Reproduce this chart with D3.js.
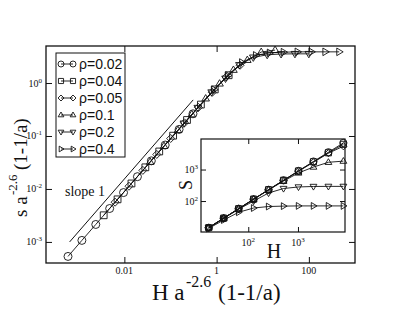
<!DOCTYPE html>
<html><head><meta charset="utf-8">
<script src="https://cdn.jsdelivr.net/npm/d3@7"></script>
<style>body{margin:0;background:#fff}svg{display:block}</style>
</head><body>
<svg id="c" width="403" height="312"></svg>
<script>
// ---- data ----
const H = [16, 32, 64, 128, 256, 512, 1024, 2048, 4096, 8192];
const rhoLabels = ["ρ=0.02", "ρ=0.04", "ρ=0.05", "ρ=0.1", "ρ=0.2", "ρ=0.4"];
const rhoValues = [0.02, 0.04, 0.05, 0.1, 0.2, 0.4];
const s002 = [14.2, 28.5, 57, 114, 228, 455, 905, 1800, 3550, 7000];
const s004 = [14.3, 28.6, 57, 115, 229, 455, 900, 1760, 3400, 6300];
const s005 = [14.3, 28.6, 57, 114, 228, 450, 880, 1700, 3300, 5500];
const s01  = [14.3, 28.5, 57, 113, 225, 430, 780, 1200, 1700, 1850];
const s02  = [14.2, 28, 55, 100, 180, 250, 280, 290, 292, 292];
const s04  = [13.5, 25, 44, 60, 67, 69, 70, 70, 70, 70];
const slopeLine = [[6.5e-4, 1.0e-3], [0.31, 0.48]];
const mainXTicks = [0.01, 1, 100];
const mainXTickLabels = ["0.01", "1", "100"];
const mainYTicks = [1e-3, 1e-2, 1e-1, 1];
const mainYTickExp = ["-3", "-2", "-1", "0"];
const insetXTicks = [100, 1000];
const insetYTicks = [100, 1000];
const insetTickExp = ["2", "3"];
const symbols = ["circle", "square", "diamond", "up", "down", "right"];

const allS = [s002, s004, s005, s01, s02, s04];

// ---- drawing ----
const svg = d3.select("#c");
const serif = "'Liberation Serif','Times New Roman',serif";
const sans = "'Liberation Sans',Arial,sans-serif";
const ink = "#111";

function symPath(type, r) {
  switch (type) {
    case "circle": return `M${-r},0A${r},${r} 0 1,0 ${r},0A${r},${r} 0 1,0 ${-r},0Z`;
    case "square": { const h = r * 0.85; return `M${-h},${-h}H${h}V${h}H${-h}Z`; }
    case "diamond": return `M0,${-r}L${r},0L0,${r}L${-r},0Z`;
    case "up": return `M0,${-r}L${r * 0.95},${r * 0.6}L${-r * 0.95},${r * 0.6}Z`;
    case "down": return `M0,${r}L${r * 0.95},${-r * 0.6}L${-r * 0.95},${-r * 0.6}Z`;
    case "right": return `M${r},0L${-r * 0.6},${r * 0.95}L${-r * 0.6},${-r * 0.95}Z`;
  }
}

// main plot
const M = {l: 46, r: 355, t: 46, b: 263};
const x = d3.scaleLog().domain([2e-4, 1000]).range([M.l, M.r]);
const y = d3.scaleLog().domain([4e-4, 5]).range([M.b, M.t]);

// scale factor from axis label: a^-2.6 (1-1/a), a = 1/rho
const factor = rhoValues.map(r => { const a = 1 / r; return Math.pow(a, -2.6) * (1 - 1 / a); });

const gMain = svg.append("g");
gMain.append("path")
  .attr("d", d3.line().x(d => x(d[0])).y(d => y(d[1]))(slopeLine))
  .attr("stroke", ink).attr("stroke-width", 1).attr("fill", "none");

allS.forEach((sv, i) => {
  const pts = H.map((h, j) => [h * factor[i], sv[j] * factor[i]]);
  gMain.append("path")
    .attr("d", d3.line().x(d => x(d[0])).y(d => y(d[1]))(pts))
    .attr("stroke", ink).attr("stroke-width", 0.9).attr("fill", "none");
  gMain.selectAll(null).data(pts).enter().append("path")
    .attr("transform", d => `translate(${x(d[0])},${y(d[1])})`)
    .attr("d", symPath(symbols[i], 4))
    .attr("fill", "none").attr("stroke", ink).attr("stroke-width", 0.9);
});

svg.append("rect").attr("x", M.l).attr("y", M.t).attr("width", M.r - M.l).attr("height", M.b - M.t)
  .attr("fill", "none").attr("stroke", ink).attr("stroke-width", 1.3);

const axB = d3.axisBottom(x).tickValues(mainXTicks).tickSize(-6).tickFormat("");
const axT = d3.axisTop(x).tickValues(mainXTicks).tickSize(-6).tickFormat("");
const axL = d3.axisLeft(y).tickValues(mainYTicks).tickSize(-6).tickFormat("");
const axR = d3.axisRight(y).tickValues(mainYTicks).tickSize(-6).tickFormat("");
[[axB, `translate(0,${M.b})`], [axT, `translate(0,${M.t})`], [axL, `translate(${M.l},0)`], [axR, `translate(${M.r},0)`]]
  .forEach(([ax, tr]) => {
    const g = svg.append("g").attr("transform", tr).call(ax);
    g.select(".domain").remove();
    g.selectAll("line").attr("stroke", ink).attr("stroke-width", 1);
  });

mainXTicks.forEach((v, i) => {
  svg.append("text").attr("x", x(v)).attr("y", M.b + 11).attr("text-anchor", "middle")
    .attr("font-family", serif).attr("font-size", 10).attr("fill", ink).text(mainXTickLabels[i]);
});
mainYTicks.forEach((v, i) => {
  const t = svg.append("text").attr("x", M.l - 4).attr("y", y(v) + 3.5).attr("text-anchor", "end")
    .attr("font-family", serif).attr("font-size", 10).attr("fill", ink);
  t.append("tspan").text("10");
  t.append("tspan").attr("dy", -4).attr("font-size", 7).text(mainYTickExp[i]);
});

// axis labels
const xl = svg.append("text").attr("y", 300).attr("font-family", serif).attr("font-size", 23).attr("fill", ink);
xl.append("tspan").attr("x", 152).text("H a");
xl.append("tspan").attr("x", 186).attr("dy", -13).attr("font-size", 16).text("-2.6");
xl.append("tspan").attr("x", 218).attr("dy", 13).text("(1-1/a)");

const yl = svg.append("text").attr("transform", "translate(27,0) rotate(-90)")
  .attr("font-family", serif).attr("font-size", 19).attr("fill", ink);
yl.append("tspan").attr("x", -217).text("s a");
yl.append("tspan").attr("x", -195).attr("dy", -10).attr("font-size", 13).text("-2.6");
yl.append("tspan").attr("x", -170).attr("dy", 10).text("(1-1/a)");

svg.append("text").attr("x", 65).attr("y", 196).attr("font-family", serif).attr("font-size", 14)
  .attr("fill", ink).text("slope 1");

// legend
const L = {x: 56, y: 53, w: 69, h: 104};
svg.append("rect").attr("x", L.x).attr("y", L.y).attr("width", L.w).attr("height", L.h)
  .attr("fill", "#fff").attr("stroke", ink).attr("stroke-width", 1);
rhoLabels.forEach((lab, i) => {
  const cy = 64 + i * 17;
  svg.append("line").attr("x1", 61).attr("x2", 73).attr("y1", cy).attr("y2", cy)
    .attr("stroke", ink).attr("stroke-width", 0.9);
  [61, 73].forEach(cx => svg.append("path").attr("transform", `translate(${cx},${cy})`)
    .attr("d", symPath(symbols[i], 3)).attr("fill", "none").attr("stroke", ink).attr("stroke-width", 0.9));
  svg.append("text").attr("x", 79).attr("y", cy + 5).attr("font-family", sans).attr("font-size", 14)
    .attr("fill", ink).text(lab);
});

// inset
const I = {l: 201, r: 345, t: 139, b: 232};
const xi = d3.scaleLog().domain([11.2, 8830]).range([I.l, I.r]);
const yi = d3.scaleLog().domain([10.4, 9330]).range([I.b, I.t]);
svg.append("rect").attr("x", I.l).attr("y", I.t).attr("width", I.r - I.l).attr("height", I.b - I.t)
  .attr("fill", "#fff").attr("stroke", "none");
const gIn = svg.append("g");
allS.forEach((sv, i) => {
  const pts = H.map((h, j) => [h, sv[j]]);
  gIn.append("path")
    .attr("d", d3.line().x(d => xi(d[0])).y(d => yi(d[1]))(pts))
    .attr("stroke", ink).attr("stroke-width", 0.9).attr("fill", "none");
  gIn.selectAll(null).data(pts).enter().append("path")
    .attr("transform", d => `translate(${xi(d[0])},${yi(d[1])})`)
    .attr("d", symPath(symbols[i], 3.6))
    .attr("fill", "none").attr("stroke", ink).attr("stroke-width", 0.9);
});
svg.append("rect").attr("x", I.l).attr("y", I.t).attr("width", I.r - I.l).attr("height", I.b - I.t)
  .attr("fill", "none").attr("stroke", ink).attr("stroke-width", 1.2);
const iB = d3.axisBottom(xi).tickValues(insetXTicks).tickSize(-5).tickFormat("");
const iT = d3.axisTop(xi).tickValues(insetXTicks).tickSize(-5).tickFormat("");
const iL = d3.axisLeft(yi).tickValues(insetYTicks).tickSize(-5).tickFormat("");
const iR = d3.axisRight(yi).tickValues(insetYTicks).tickSize(-5).tickFormat("");
[[iB, `translate(0,${I.b})`], [iT, `translate(0,${I.t})`], [iL, `translate(${I.l},0)`], [iR, `translate(${I.r},0)`]]
  .forEach(([ax, tr]) => {
    const g = svg.append("g").attr("transform", tr).call(ax);
    g.select(".domain").remove();
    g.selectAll("line").attr("stroke", ink).attr("stroke-width", 1);
  });
insetXTicks.forEach((v, i) => {
  const t = svg.append("text").attr("x", xi(v)).attr("y", I.b + 14).attr("text-anchor", "middle")
    .attr("font-family", serif).attr("font-size", 10).attr("fill", ink);
  t.append("tspan").text("10");
  t.append("tspan").attr("dy", -4).attr("font-size", 7).text(insetTickExp[i]);
});
insetYTicks.forEach((v, i) => {
  const t = svg.append("text").attr("x", I.l - 3).attr("y", yi(v) + 3.5).attr("text-anchor", "end")
    .attr("font-family", serif).attr("font-size", 10).attr("fill", ink);
  t.append("tspan").text("10");
  t.append("tspan").attr("dy", -4).attr("font-size", 7).text(insetTickExp[i]);
});
svg.append("text").attr("x", 274).attr("y", 258).attr("text-anchor", "middle")
  .attr("font-family", serif).attr("font-size", 20).attr("fill", ink).text("H");
svg.append("text").attr("transform", "translate(192,185) rotate(-90)").attr("text-anchor", "middle")
  .attr("font-family", serif).attr("font-size", 18).attr("fill", ink).text("S");
</script>
</body></html>
